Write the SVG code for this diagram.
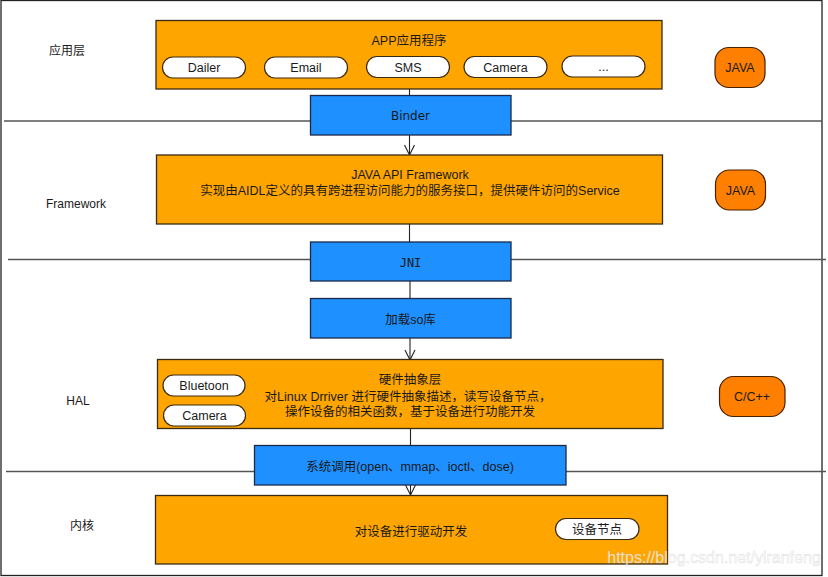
<svg xmlns="http://www.w3.org/2000/svg" width="828" height="577" viewBox="0 0 828 577">
<defs>
<style>
text{font-family:"Liberation Sans","Noto Sans CJK SC",sans-serif;font-size:12.5px;fill:#1a1a1a;text-anchor:middle;dominant-baseline:central}
.box{fill:#FFA500;stroke:#3a2a10;stroke-width:1.3}
.blue{fill:#1E90FF;stroke:#1a2a4a;stroke-width:1.3}
.pill{fill:#fff;stroke:#3a2a10;stroke-width:1.2}
.lang{fill:#FF8000;stroke:#4a2000;stroke-width:1.2}
.sep{stroke:#555;stroke-width:1.3;fill:none}
.conn{stroke:#222;stroke-width:1.1;fill:none}
.lbl{font-size:12px}
.mono{font-family:"DejaVu Sans Mono",monospace;font-size:12px}
.dv{font-family:"DejaVu Sans",sans-serif;font-size:12px}
</style>
<marker id="arr" viewBox="0 0 12 12" refX="11" refY="6" markerWidth="12" markerHeight="12" markerUnits="userSpaceOnUse" orient="auto">
<path d="M1,1 L11,6 L1,11" fill="none" stroke="#222" stroke-width="1.1"/>
</marker>
</defs>
<rect x="1" y="0.5" width="821" height="575" fill="#fff" stroke="#222" stroke-width="1.3"/>
<g id="separators">
<line class="sep" x1="4" y1="121" x2="310" y2="121"/>
<line class="sep" x1="511" y1="121" x2="822" y2="121"/>
<line class="sep" x1="8" y1="259.5" x2="310" y2="259.5"/>
<line class="sep" x1="511" y1="259.5" x2="826" y2="259.5"/>
<line class="sep" x1="6" y1="471.5" x2="254" y2="471.5"/>
<line class="sep" x1="566" y1="471.5" x2="826" y2="471.5"/>
</g>
<g id="layer-labels">
<text class="lbl" x="67" y="51">应用层</text>
<text class="lbl" x="76" y="204">Framework</text>
<text class="lbl" x="78" y="401">HAL</text>
<text class="lbl" x="82" y="526">内核</text>
</g>
<g id="connectors">
<line class="conn" x1="409.5" y1="89" x2="409.5" y2="95"/>
<line class="conn" x1="409.5" y1="135" x2="409.5" y2="155" marker-end="url(#arr)"/>
<line class="conn" x1="409.5" y1="224" x2="409.5" y2="242"/>
<line class="conn" x1="410" y1="281" x2="410" y2="298"/>
<line class="conn" x1="410" y1="338" x2="410" y2="360" marker-end="url(#arr)"/>
<line class="conn" x1="410.5" y1="429" x2="410.5" y2="445"/>
<line class="conn" x1="410.5" y1="485" x2="410.5" y2="495" marker-end="url(#arr)"/>
</g>
<g id="app">
<rect class="box" x="156" y="20.5" width="506" height="68.5"/>
<text x="409" y="41">APP应用程序</text>
<rect class="pill" x="162.5" y="57" width="83" height="21" rx="10.5"/>
<text x="204" y="68">Dailer</text>
<rect class="pill" x="264.5" y="57" width="83" height="21" rx="10.5"/>
<text x="306" y="68">Email</text>
<rect class="pill" x="366.5" y="56.5" width="83" height="21" rx="10.5"/>
<text x="408" y="67.5">SMS</text>
<rect class="pill" x="464" y="56.5" width="83" height="21" rx="10.5"/>
<text x="505.5" y="67.5">Camera</text>
<rect class="pill" x="562" y="56" width="83" height="21" rx="10.5"/>
<text x="603.5" y="67">...</text>
</g>
<g id="java1">
<rect class="lang" x="715" y="47.5" width="50" height="40" rx="14" ry="14"/>
<text x="740" y="68">JAVA</text>
</g>
<g id="binder">
<rect class="blue" x="310.5" y="95.5" width="200.5" height="39.5"/>
<text class="dv" x="410.5" y="116">Binder</text>
</g>
<g id="framework">
<rect class="box" x="156.5" y="155" width="506" height="69"/>
<text x="410" y="175">JAVA API Framework</text>
<text x="410" y="190.5">实现由AIDL定义的具有跨进程访问能力的服务接口，提供硬件访问的Service</text>
</g>
<g id="java2">
<rect class="lang" x="715.5" y="170" width="50" height="40" rx="14" ry="14"/>
<text x="740.5" y="190.5">JAVA</text>
</g>
<g id="jni">
<rect class="blue" x="310.5" y="242" width="200.5" height="39"/>
<text class="mono" x="410.5" y="263">JNI</text>
</g>
<g id="loadso">
<rect class="blue" x="310.5" y="298.5" width="200.5" height="39.5"/>
<text x="410.5" y="320">加载so库</text>
</g>
<g id="hal">
<rect class="box" x="157.5" y="359.5" width="505.5" height="69"/>
<text x="410" y="380">硬件抽象层</text>
<text x="408" y="396.5">对Linux Drriver 进行硬件抽象描述，读写设备节点，</text>
<text x="410" y="411.5">操作设备的相关函数，基于设备进行功能开发</text>
<rect class="pill" x="163" y="375" width="82" height="21" rx="10.5"/>
<text x="204" y="386">Bluetoon</text>
<rect class="pill" x="163.5" y="405" width="82" height="21" rx="10.5"/>
<text x="204.5" y="416">Camera</text>
</g>
<g id="cpp">
<rect class="lang" x="719.5" y="376.5" width="65.5" height="40" rx="14" ry="14"/>
<text x="752" y="397">C/C++</text>
</g>
<g id="syscall">
<rect class="blue" x="254.5" y="445.5" width="311.5" height="39.5"/>
<text x="410" y="467">系统调用(open、mmap、ioctl、dose)</text>
</g>
<g id="kernel">
<rect class="box" x="155.5" y="495.5" width="512" height="68.5"/>
<text x="411" y="531.5">对设备进行驱动开发</text>
<rect class="pill" x="555.5" y="518.5" width="83.5" height="21" rx="10.5"/>
<text x="597" y="529.5">设备节点</text>
</g>
<text x="714" y="557" style="font-family:'Liberation Sans',sans-serif;font-size:16px;fill:#fff;fill-opacity:0.75;stroke:#bbb;stroke-opacity:0.5;stroke-width:0.5">https://blog.csdn.net/yiranfeng</text>
</svg>
